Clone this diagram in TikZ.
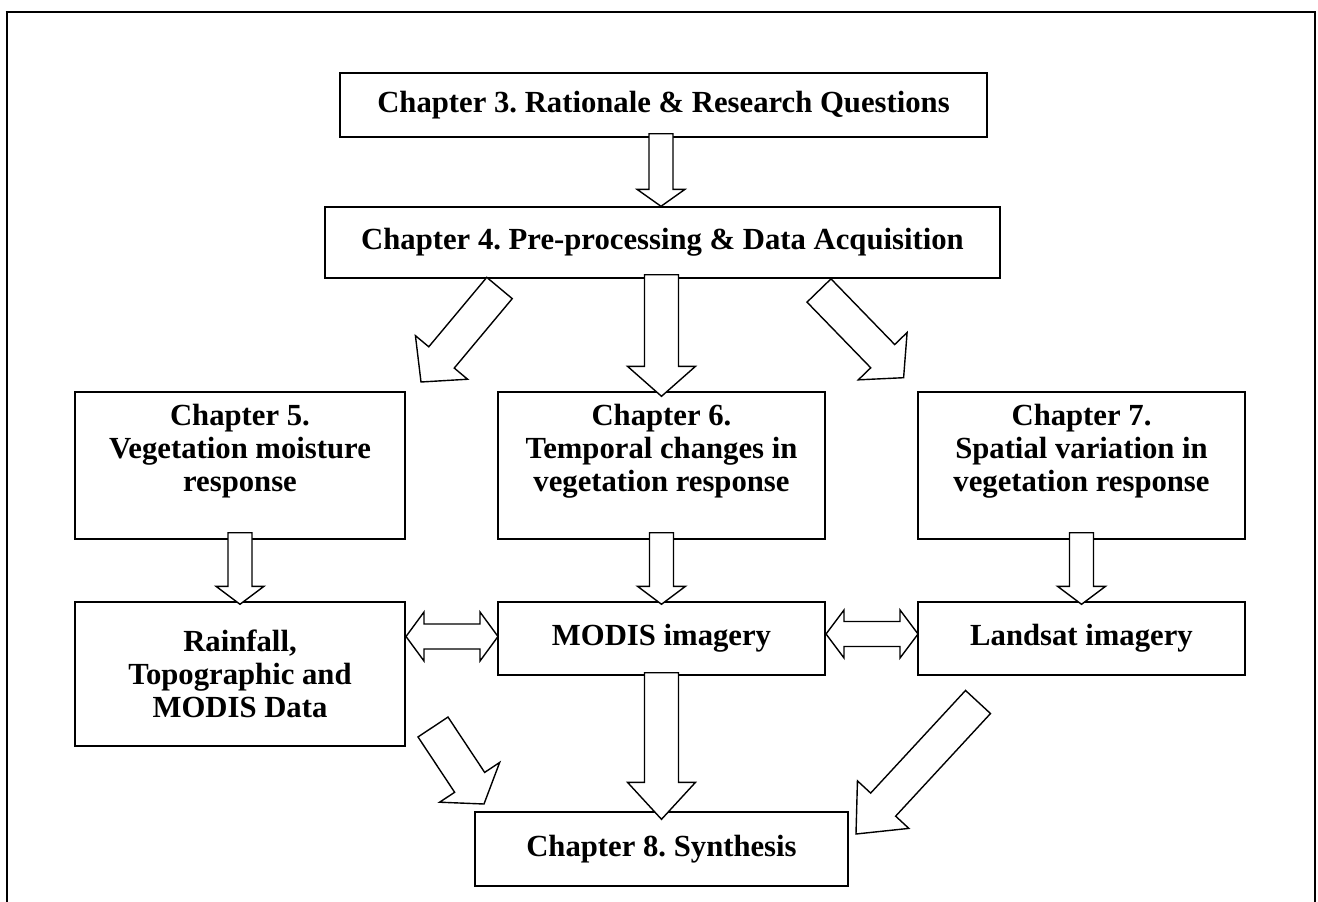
\documentclass[tikz,border=0pt]{standalone}
\usepackage{fontspec}
\setmainfont{Liberation Serif}
\usetikzlibrary{calc}
\tikzset{
  box/.style={draw, line width=1.4pt, inner sep=0pt, align=center,
    font=\fontsize{30.7}{33}\selectfont\bfseries\frenchspacing},
  lbl/.style={inner sep=0pt, align=center, anchor=north,
    font=\fontsize{30.7}{33}\selectfont\bfseries\frenchspacing},
  barrow/.style={draw, fill=white, line width=1.4pt, line join=miter},
  frame/.style={line width=2pt}
}
% tail, tip, shaft half-width, head half-width, head length
\newcommand{\blockarrow}[5]{%
  \draw[barrow]
    ($(#1)!#3!90:(#2)$) --
    ($(#2)!#5!(#1)!#3!-90:(#1)$) --
    ($(#2)!#5!(#1)!#4!-90:(#1)$) --
    (#2) --
    ($(#2)!#5!(#1)!#4!90:(#1)$) --
    ($(#2)!#5!(#1)!#3!90:(#1)$) --
    ($(#1)!#3!-90:(#2)$) -- cycle;}
% left tip, right tip, shaft half-width, head half-width, head length
\newcommand{\dblarrow}[5]{%
  \draw[barrow]
    (#1) --
    ($(#1)!#5!(#2)!#4!90:(#2)$) --
    ($(#1)!#5!(#2)!#3!90:(#2)$) --
    ($(#2)!#5!(#1)!#3!-90:(#1)$) --
    ($(#2)!#5!(#1)!#4!-90:(#1)$) --
    (#2) --
    ($(#2)!#5!(#1)!#4!90:(#1)$) --
    ($(#2)!#5!(#1)!#3!90:(#1)$) --
    ($(#1)!#5!(#2)!#3!-90:(#2)$) --
    ($(#1)!#5!(#2)!#4!-90:(#2)$) -- cycle;}
\begin{document}
\begin{tikzpicture}[x=1pt,y=-1pt]
\useasboundingbox (0,0) rectangle (1318,902);
% outer frame
\draw[frame] (7,902) -- (7,12);
\draw[frame] (1315,12) -- (1315,902);
\draw[line width=2.6pt] (5.7,12) -- (1316.3,12);

% boxes
\node[box, minimum width=647pt, minimum height=64pt] (ch3) at (663.5,105) {Chapter 3. Rationale \& Research Questions};
\node[box, minimum width=675pt, minimum height=71pt] (ch4) at (662.5,242.5) {Chapter 4. Pre-processing \& Data Acquisition};
\node[box, minimum width=330pt, minimum height=147pt] (ch5) at (240,465.5) {};
\node[box, minimum width=327pt, minimum height=147pt] (ch6) at (661.5,465.5) {};
\node[box, minimum width=327pt, minimum height=147pt] (ch7) at (1081.5,465.5) {};
\node[box, minimum width=330pt, minimum height=144pt] (rain) at (240,674) {Rainfall,\\Topographic and\\MODIS Data};
\node[box, minimum width=327pt, minimum height=73pt] (modis) at (661.5,638.5) {MODIS imagery};
\node[box, minimum width=327pt, minimum height=73pt] (land) at (1081.5,638.5) {Landsat imagery};
\node[box, minimum width=373pt, minimum height=74pt] (ch8) at (661.5,849) {Chapter 8. Synthesis};

% texts of the chapter boxes
\node[lbl] (ch5t) at ($(ch5.north)+(0,13)$) {Chapter 5.\\Vegetation moisture\\response};
\node[lbl] (ch6t) at ($(ch6.north)+(0,13)$) {Chapter 6.\\Temporal changes in\\vegetation response};
\node[lbl] (ch7t) at ($(ch7.north)+(0,13)$) {Chapter 7.\\Spatial variation in\\vegetation response};

% arrow end points
\coordinate (a1s) at ($(ch3.south)+(-2.5,-4)$);
\coordinate (a1e) at ($(ch4.north)+(-1.5,0)$);
\coordinate (a2s) at ($(ch4.south)+(-1,-4)$);
\coordinate (a2e) at ($(ch6.north)+(0,5)$);
\coordinate (a3s) at (499.5,288);
\coordinate (a3e) at (421,382);
\coordinate (a4s) at (819,290.5);
\coordinate (a4e) at (903.6,377.7);
\coordinate (b1s) at ($(ch5.south)+(0,-7)$);
\coordinate (b1e) at ($(rain.north)+(0,3)$);
\coordinate (b2s) at ($(ch6.south)+(0,-7)$);
\coordinate (b2e) at ($(modis.north)+(0,3)$);
\coordinate (b3s) at ($(ch7.south)+(0,-7)$);
\coordinate (b3e) at ($(land.north)+(0,3)$);
\coordinate (d1l) at (406,636.5);
\coordinate (d1r) at (498,636.5);
\coordinate (d2l) at (826,634);
\coordinate (d2r) at (918,634);
\coordinate (c1s) at ($(modis.south)+(0,-3)$);
\coordinate (c1e) at ($(ch8.north)+(0,8)$);
\coordinate (c2s) at (433,727);
\coordinate (c2e) at (484,804);
\coordinate (c3s) at (978,702);
\coordinate (c3e) at (856,834);

% block arrows
\blockarrow{a1s}{a1e}{12pt}{24pt}{17pt}
\blockarrow{a2s}{a2e}{17pt}{34pt}{30pt}
\blockarrow{a3s}{a3e}{16.6pt}{34pt}{32pt}
\blockarrow{a4s}{a4e}{16.7pt}{34pt}{30pt}
\blockarrow{b1s}{b1e}{12pt}{24pt}{18pt}
\blockarrow{b2s}{b2e}{12pt}{24pt}{18pt}
\blockarrow{b3s}{b3e}{12pt}{24pt}{18pt}
\dblarrow{d1l}{d1r}{12.5pt}{24.5pt}{18pt}
\dblarrow{d2l}{d2r}{12.5pt}{24pt}{18pt}
\blockarrow{c1s}{c1e}{17pt}{34pt}{37pt}
\blockarrow{c2s}{c2e}{18pt}{36pt}{26pt}
\blockarrow{c3s}{c3e}{17pt}{35pt}{40pt}
\end{tikzpicture}
\end{document}
